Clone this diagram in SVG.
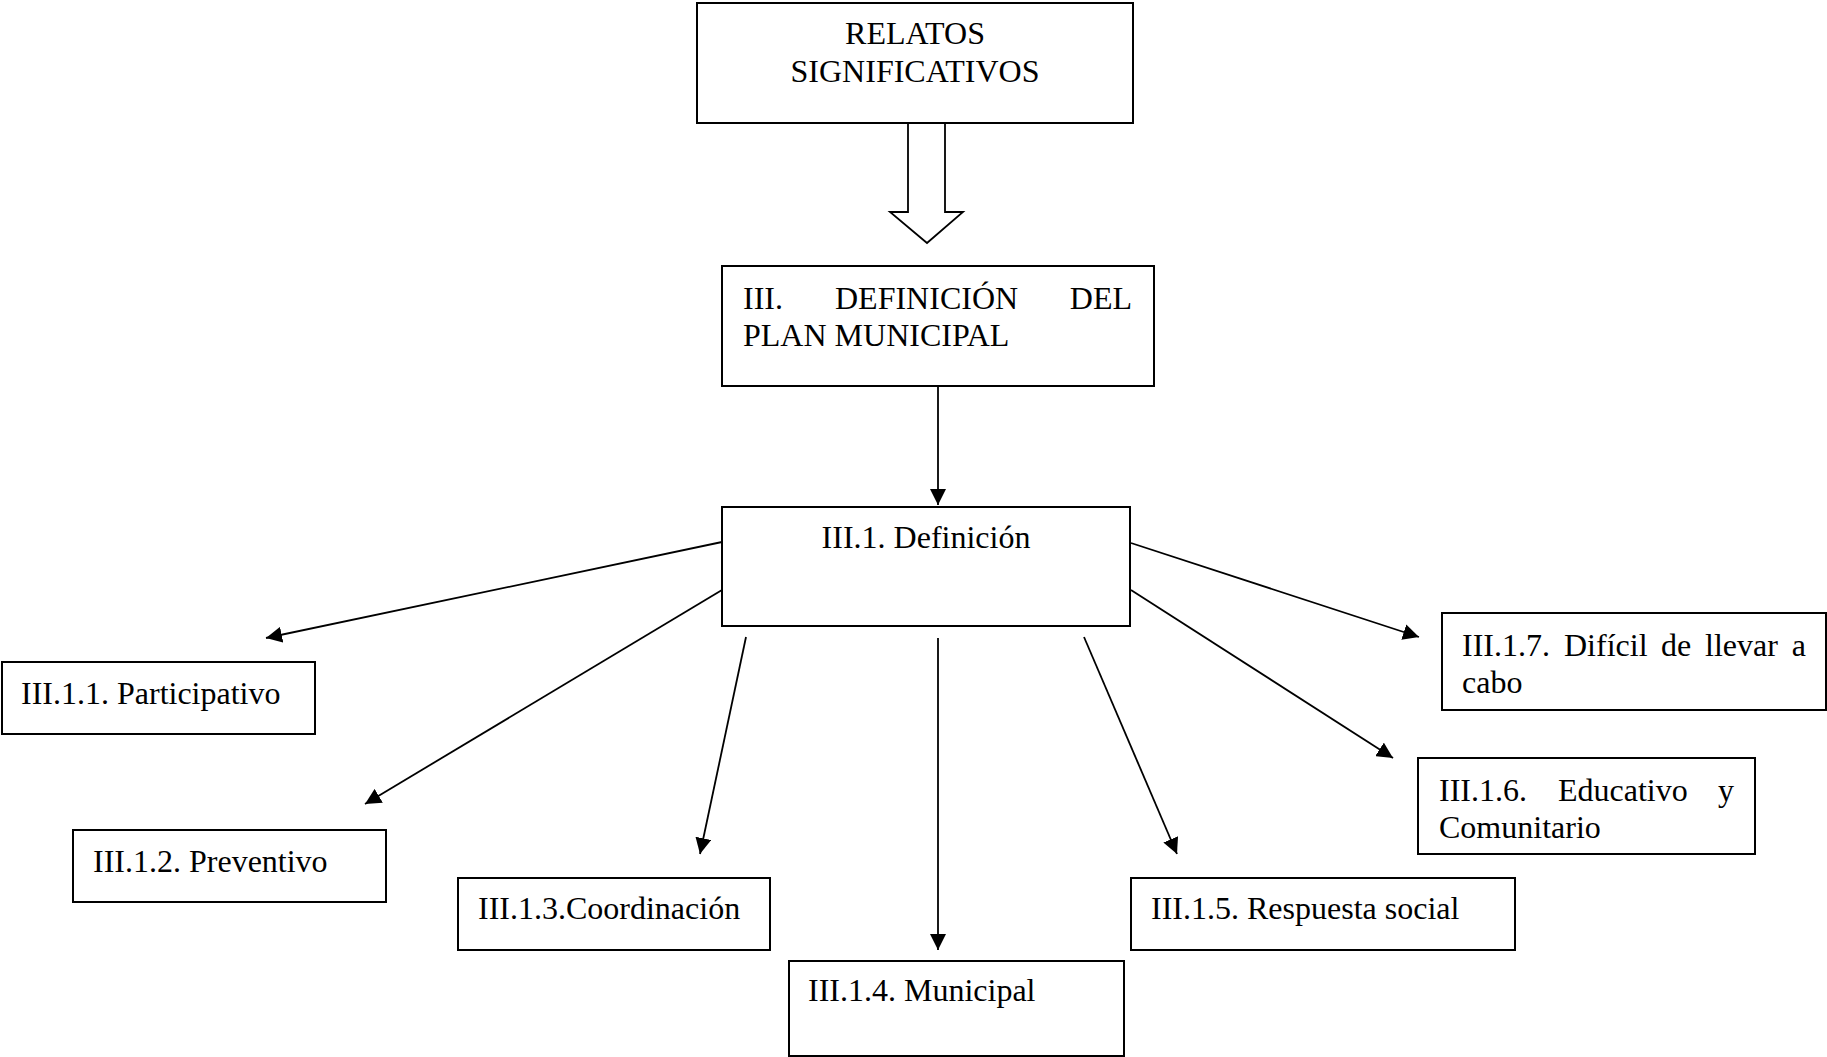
<svg xmlns="http://www.w3.org/2000/svg" width="1827" height="1057" viewBox="0 0 1827 1057">
  <style>
    .box { fill: #ffffff; stroke: #000000; stroke-width: 2; }
    .lbl { font-family: "Liberation Serif", "Times New Roman", serif; font-size: 32px; fill: #000000; }
    .mid { text-anchor: middle; }
    .end { text-anchor: end; }
    .link { stroke: #000000; stroke-width: 1.8; fill: none; marker-end: url(#tip); }
  </style>
  <defs>
    <marker id="tip" viewBox="0 0 16 16" refX="16" refY="8" markerWidth="16" markerHeight="16" markerUnits="userSpaceOnUse" orient="auto">
      <path d="M0,0 L16,8 L0,16 Z" fill="#000000"/>
    </marker>
  </defs>
  <rect width="1827" height="1057" fill="#ffffff"/>

  <g id="relatos">
    <rect class="box" x="697" y="3" width="436" height="120"/>
    <text class="lbl mid" x="915" y="44">RELATOS</text>
    <text class="lbl mid" x="915" y="82">SIGNIFICATIVOS</text>
  </g>

  <g id="definicion-plan">
    <rect class="box" x="722" y="266" width="432" height="120"/>
    <text class="lbl" x="743" y="309">III.</text>
    <text class="lbl" x="835" y="309">DEFINICIÓN</text>
    <text class="lbl end" x="1132" y="309">DEL</text>
    <text class="lbl" x="743" y="346">PLAN MUNICIPAL</text>
  </g>

  <g id="definicion">
    <rect class="box" x="722" y="507" width="408" height="119"/>
    <text class="lbl mid" x="926" y="548">III.1. Definición</text>
  </g>

  <g id="participativo">
    <rect class="box" x="2" y="662" width="313" height="72"/>
    <text class="lbl" x="21" y="704">III.1.1. Participativo</text>
  </g>

  <g id="preventivo">
    <rect class="box" x="73" y="830" width="313" height="72"/>
    <text class="lbl" x="93" y="872">III.1.2. Preventivo</text>
  </g>

  <g id="coordinacion">
    <rect class="box" x="458" y="878" width="312" height="72"/>
    <text class="lbl" x="478" y="919">III.1.3.Coordinación</text>
  </g>

  <g id="municipal">
    <rect class="box" x="789" y="961" width="335" height="95"/>
    <text class="lbl" x="808" y="1001">III.1.4. Municipal</text>
  </g>

  <g id="respuesta-social">
    <rect class="box" x="1131" y="878" width="384" height="72"/>
    <text class="lbl" x="1151" y="919">III.1.5. Respuesta social</text>
  </g>

  <g id="educativo">
    <rect class="box" x="1418" y="758" width="337" height="96"/>
    <text class="lbl" x="1439" y="801">III.1.6.</text>
    <text class="lbl" x="1558" y="801">Educativo</text>
    <text class="lbl end" x="1734" y="801">y</text>
    <text class="lbl" x="1439" y="838">Comunitario</text>
  </g>

  <g id="dificil">
    <rect class="box" x="1442" y="613" width="384" height="97"/>
    <text class="lbl" x="1462" y="656">III.1.7.</text>
    <text class="lbl" x="1564" y="656">Difícil</text>
    <text class="lbl" x="1661" y="656">de</text>
    <text class="lbl" x="1705" y="656">llevar</text>
    <text class="lbl end" x="1806" y="656">a</text>
    <text class="lbl" x="1462" y="693">cabo</text>
  </g>

  <g id="connectors">
    <!-- hollow block arrow between the two upper boxes -->
    <polygon points="908,123 945,123 945,212 963,212 927,243 890,212 908,212" fill="#ffffff" stroke="#000000" stroke-width="1.8"/>
    <line class="link" x1="938" y1="386" x2="938" y2="505"/>
    <line class="link" x1="722" y1="542" x2="266" y2="638"/>
    <line class="link" x1="722" y1="590" x2="365" y2="804"/>
    <line class="link" x1="746" y1="637" x2="700" y2="854"/>
    <line class="link" x1="938" y1="638" x2="938" y2="950"/>
    <line class="link" x1="1084" y1="637" x2="1177" y2="854"/>
    <line class="link" x1="1131" y1="590" x2="1393" y2="758"/>
    <line class="link" x1="1131" y1="543" x2="1419" y2="637"/>
  </g>
</svg>
